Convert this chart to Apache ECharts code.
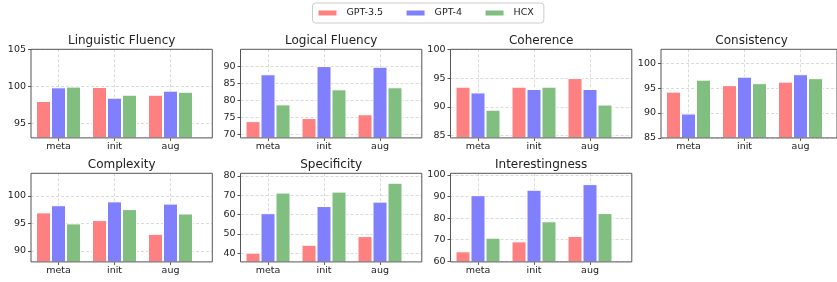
<!DOCTYPE html>
<html>
<head>
<meta charset="utf-8">
<script src="https://cdn.jsdelivr.net/npm/echarts@6/dist/echarts.min.js"></script>
<style>
  html, body { margin: 0; padding: 0; background: white; }
  #main { width: 837px; height: 282px; }
</style>
</head>
<body>
<div id="main"></div>
<script>
// data, rows are GPT-3.5 / GPT-4 / HCX over the categories
var categories = ['meta', 'init', 'aug'];
var modelNames = ['GPT-3.5', 'GPT-4', 'HCX'];
var panelTitles = ['Linguistic Fluency', 'Logical Fluency', 'Coherence', 'Consistency',
  'Complexity', 'Specificity', 'Interestingness'];

var linguisticFluency = [[98.0, 99.9, 98.85], [99.85, 98.45, 99.4], [99.95, 98.85, 99.25]];
var logicalFluency = [[73.9, 74.8, 75.9], [87.6, 90.0, 89.8], [78.8, 83.2, 83.8]];
var coherence = [[93.5, 93.5, 95.0], [92.5, 93.1, 93.1], [89.5, 93.5, 90.4]];
var consistency = [[94.3, 95.6, 96.3], [89.9, 97.3, 97.8], [96.7, 96.0, 97.0]];
var complexity = [[97.0, 95.6, 93.1], [98.3, 99.0, 98.6], [95.0, 97.6, 96.8]];
var specificity = [[40.2, 44.3, 48.8], [60.7, 64.4, 66.7], [71.4, 71.9, 76.5]];
var interestingness = [[64.6, 69.2, 71.7], [90.6, 93.1, 95.7], [70.9, 78.5, 82.3]];

var yLimits = [[93, 105], [69, 94.9], [84.6, 100], [85, 102.8], [88, 104.1], [35.4, 81.4], [59.7, 100.7]];
var yTicks = [
  [95, 100, 105],
  [70, 75, 80, 85, 90],
  [85, 90, 95, 100],
  [85, 90, 95, 100],
  [90, 95, 100],
  [40, 50, 60, 70, 80],
  [60, 70, 80, 90, 100]
];

var panelData = [linguisticFluency, logicalFluency, coherence, consistency, complexity, specificity, interestingness];
var colors = ['#ff8080', '#8080ff', '#80bf80'];

var myChart = echarts.init(document.getElementById('main'), null, { renderer: 'canvas' });

var font = 'DejaVu Sans';
var lefts = [31, 240.5, 450.5, 661, 31, 240.5, 450.5];
var tops = [49.3, 49.3, 49.3, 49.3, 173.3, 173.3, 173.3];
var titleTops = [34.5, 34.5, 34.5, 34.5, 158.5, 158.5, 158.5];
var frameW = 181.3;
var frameH = 88.6;
var bandsW = 168;

var grid = [], xAxis = [], yAxis = [], series = [], title = [];

for (var i = 0; i < panelData.length; i++) {
  // frame grid: border on top of the bars, y axis and horizontal grid
  grid.push({
    left: lefts[i], top: tops[i], width: frameW, height: frameH, z: 3,
    show: true, borderColor: '#555', borderWidth: 1, backgroundColor: 'rgba(0,0,0,0)'
  });
  // inner grid for the bars
  grid.push({ left: lefts[i] - 0.5, top: tops[i], width: bandsW, height: frameH });

  xAxis.push({ type: 'value', gridIndex: 2 * i, show: false, min: 0, max: 1 });
  xAxis.push({
    type: 'category', gridIndex: 2 * i + 1, data: categories,
    axisLine: { show: false },
    axisTick: { show: true, alignWithLabel: true, length: 3, lineStyle: { color: '#555' } },
    axisLabel: { fontFamily: font, fontSize: 9.5, color: '#222', margin: 4 },
    splitLine: { show: true, alignWithLabel: true, lineStyle: { color: '#d0d0d0', type: [3, 2], width: 0.8 } }
  });

  yAxis.push({
    type: 'value', gridIndex: 2 * i, min: yLimits[i][0], max: yLimits[i][1],
    axisLine: { show: false },
    axisTick: { show: true, length: 3, customValues: yTicks[i], lineStyle: { color: '#555' } },
    axisLabel: { customValues: yTicks[i], fontFamily: font, fontSize: 9.5, color: '#222', margin: 5 },
    splitLine: { show: true, lineStyle: { color: '#d0d0d0', type: [3, 2], width: 0.8 } }
  });
  yAxis.push({ type: 'value', gridIndex: 2 * i + 1, min: yLimits[i][0], max: yLimits[i][1], show: false });

  for (var m = 0; m < modelNames.length; m++) {
    series.push({
      name: modelNames[m], type: 'bar',
      xAxisIndex: 2 * i + 1, yAxisIndex: 2 * i + 1,
      data: panelData[i][m],
      barWidth: 15, barGap: '0%',
      itemStyle: { color: colors[m], borderColor: '#fff', borderWidth: 1 }
    });
  }

  title.push({
    text: panelTitles[i], left: lefts[i] + frameW / 2, top: titleTops[i], textAlign: 'center', padding: 0,
    textStyle: { fontFamily: font, fontSize: 12, fontWeight: 'normal', color: '#222' }
  });
}

var option = {
  animation: false,
  color: colors,
  title: title,
  legend: {
    data: modelNames, left: 312.5, top: 3,
    itemWidth: 20, itemHeight: 7, itemGap: 21.5,
    icon: 'rect',
    borderColor: '#ccc', borderWidth: 1, borderRadius: 3,
    padding: [5, 10, 5, 4],
    textStyle: { fontFamily: font, fontSize: 9.5, color: '#222', padding: [0, 0, 0, 4] }
  },
  grid: grid,
  xAxis: xAxis,
  yAxis: yAxis,
  series: series
};

myChart.setOption(option);
</script>
</body>
</html>
